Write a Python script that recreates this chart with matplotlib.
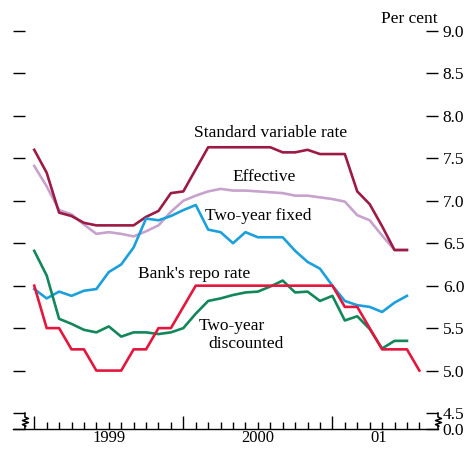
import numpy as np
import matplotlib
matplotlib.use("Agg")
import matplotlib.pyplot as plt

plt.rcParams['font.family'] = ['Liberation Serif', 'DejaVu Serif']

# monthly observations, Jan 1999 onwards
svr = [7.60, 7.33, 6.86, 6.82, 6.74, 6.71, 6.71, 6.71, 6.71, 6.81, 6.88, 7.09,
       7.11, 7.37, 7.63, 7.63, 7.63, 7.63, 7.63, 7.63, 7.57, 7.57, 7.60, 7.55,
       7.55, 7.55, 7.11, 6.96, 6.70, 6.42, 6.42]
effective = [7.41, 7.17, 6.89, 6.84, 6.72, 6.61, 6.63, 6.61, 6.58, 6.64, 6.71, 6.87,
             7.00, 7.06, 7.11, 7.14, 7.12, 7.12, 7.11, 7.10, 7.09, 7.06, 7.06, 7.04,
             7.02, 6.99, 6.83, 6.77, 6.59, 6.42, 6.42]
fixed = [5.96, 5.85, 5.93, 5.88, 5.94, 5.96, 6.16, 6.25, 6.45, 6.79, 6.77, 6.82,
         6.89, 6.95, 6.66, 6.63, 6.50, 6.63, 6.57, 6.57, 6.57, 6.41, 6.28, 6.20,
         6.00, 5.82, 5.77, 5.75, 5.69, 5.80, 5.88]
discounted = [6.41, 6.12, 5.61, 5.55, 5.48, 5.45, 5.52, 5.40, 5.45, 5.45, 5.43, 5.45,
              5.50, 5.67, 5.82, 5.85, 5.89, 5.92, 5.93, 5.99, 6.06, 5.92, 5.93, 5.82,
              5.88, 5.59, 5.64, 5.49, 5.26, 5.35, 5.35]
repo = [6.00, 5.50, 5.50, 5.25, 5.25, 5.00, 5.00, 5.00, 5.25, 5.25, 5.50, 5.50,
        5.75, 6.00, 6.00, 6.00, 6.00, 6.00, 6.00, 6.00, 6.00, 6.00, 6.00, 6.00,
        6.00, 5.75, 5.75, 5.50, 5.25, 5.25, 5.25, 5.00]

year_labels = ['1999', '2000', '01']
ytick_vals = [4.5, 5.0, 5.5, 6.0, 6.5, 7.0, 7.5, 8.0, 8.5, 9.0]

c_svr = '#9c1b45'
c_eff = '#c6a2cc'
c_fix = '#1ba0dc'
c_dis = '#12875a'
c_repo = '#e3173e'

fig = plt.figure(figsize=(4.67, 4.5), dpi=100)
ax = fig.add_axes([13 / 467, 21 / 450, 425 / 467, 419.3 / 450])

y_bottom = 4.312
ax.set_xlim(-1.71, 32.5)
ax.set_ylim(y_bottom, 9.25)

lw = 1.9
ax.plot(np.arange(len(effective)), effective, color=c_eff, lw=lw, solid_joinstyle='round')
ax.plot(np.arange(len(svr)), svr, color=c_svr, lw=lw, solid_joinstyle='round')
ax.plot(np.arange(len(fixed)), fixed, color=c_fix, lw=lw, solid_joinstyle='round')
ax.plot(np.arange(len(discounted)), discounted, color=c_dis, lw=lw, solid_joinstyle='round')
ax.plot(np.arange(len(repo)), repo, color=c_repo, lw=lw, solid_joinstyle='round')

# spines
for s in ['left', 'right', 'top']:
    ax.spines[s].set_visible(False)
ax.spines['bottom'].set_linewidth(1.0)

# y ticks on both sides, labels on the right only
ax.set_yticks([y_bottom] + ytick_vals)
ax.set_yticklabels(['0.0'] + ['%.1f' % v for v in ytick_vals])
ax.tick_params(axis='y', left=True, right=True, labelleft=False, labelright=True,
               direction='in', length=8.6, width=1.0, pad=3.5, labelsize=12.5)

# x ticks: months, longer ones at year starts
ax.set_xticks([0, 12, 24])
ax.set_xticks([m for m in range(32) if m % 12 != 0], minor=True)
ax.tick_params(axis='x', which='major', direction='in', length=9.4, width=1.0, labelbottom=False)
ax.tick_params(axis='x', which='minor', direction='in', length=5.0, width=1.0)
for xpos, lab in zip([6, 18, 27.75], year_labels):
    ax.annotate(lab, (xpos, y_bottom), xytext=(0, -1), textcoords='offset points',
                ha='center', va='top', fontsize=12, annotation_clip=False)

# axis break marks
px_x = 12.42
px_y = 84.9
zig = [(0, 0), (0, 4), (3.5, 5.5), (-2.5, 7.5), (3.5, 9.5), (-2.5, 11.5), (1, 13), (0, 13.5), (0, 16)]
for x0 in [-0.75, 32.5]:
    ax.plot([x0 + dx / px_x for dx, dy in zig], [4.5 - dy / px_y for dx, dy in zig],
            color='black', lw=1.1, clip_on=False)

# series labels
fs = 12.5
ax.text(19.06, 7.80, 'Standard variable rate', ha='center', va='center', fontsize=fs)
ax.text(18.5, 7.275, 'Effective', ha='center', va='center', fontsize=fs)
ax.text(18.05, 6.817, 'Two-year fixed', ha='center', va='center', fontsize=fs)
ax.text(12.86, 6.136, "Bank's repo rate", ha='center', va='center', fontsize=fs)
ax.text(15.92, 5.526, 'Two-year', ha='center', va='center', fontsize=fs)
ax.text(17.08, 5.31, 'discounted', ha='center', va='center', fontsize=fs)
ax.text(32.5, 9.14, 'Per cent', ha='right', va='center', fontsize=fs)

fig.savefig('out.png', dpi=100)
